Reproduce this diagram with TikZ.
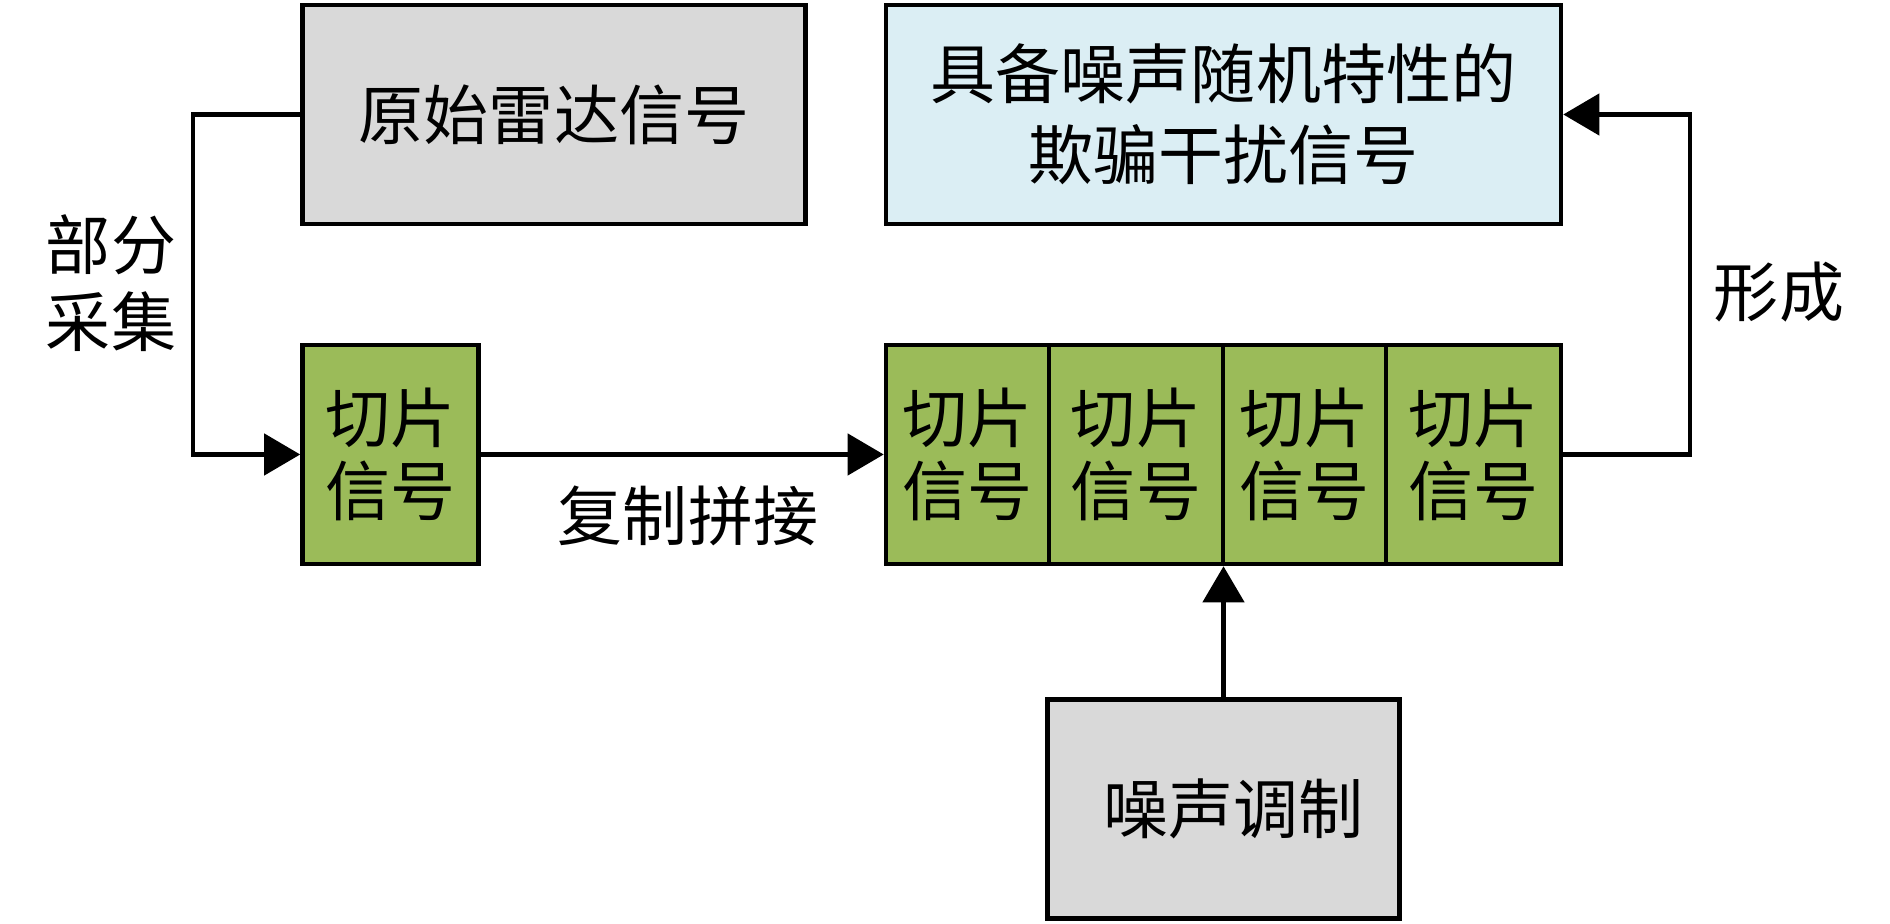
\documentclass[tikz,border=0pt]{standalone}
\usepackage{fontspec}
\setmainfont{Noto Sans CJK SC}
\usetikzlibrary{arrows.meta}

\definecolor{boxgray}{HTML}{D9D9D9}
\definecolor{boxblue}{HTML}{DBEEF4}
\definecolor{boxgreen}{HTML}{9BBB59}

\begin{document}
\begin{tikzpicture}[
	font=\fontsize{18.5}{21}\selectfont,
	blk/.style={draw, line width=1.3pt, inner sep=0pt, align=center, minimum height=2.19cm},
	cell/.style={blk, fill=boxgreen},
	link/.style={line width=1.3pt},
	feed/.style={link, -{Triangle[length=3.6mm, width=4.1mm]}}
	]
	
	\useasboundingbox (0,0) rectangle (18.9,9.24);
	
	% top row
	\node[blk, fill=boxgray, minimum width=5.03cm] (raw) at (5.54,8.095) {原始雷达信号};
	\node[blk, fill=boxblue, minimum width=6.75cm, font=\fontsize{18.5}{23}\selectfont] (jam) at (12.235,8.095) {具备噪声随机特性的\\欺骗干扰信号};
	
	% slices
	\node[cell, minimum width=1.76cm] (slice) at (3.905,4.695) {切片\\信号};
	\node[cell, minimum width=1.63cm] (s1) at (9.675,4.695) {切片\\信号};
	\node[cell, minimum width=1.74cm] (s2) at (11.36,4.695) {切片\\信号};
	\node[cell, minimum width=1.63cm] (s3) at (13.045,4.695) {切片\\信号};
	\node[cell, minimum width=1.75cm] (s4) at (14.735,4.695) {切片\\信号};
	
	% noise
	\node[blk, fill=boxgray, minimum width=3.52cm] (noise) at (12.235,1.1525) {\hspace{0.2cm}噪声调制};
	
	% connectors
	\coordinate (lft) at (1.93,4.695);
	\coordinate (rgt) at (16.9,4.695);
	\draw[feed] (raw.west) -| (lft) -- (slice.west);
	\draw[feed] (slice.east) -- (s1.west);
	\draw[feed] (s4.east) -- (rgt) |- (jam.east);
	\draw[feed] (noise.north) -- (noise.north |- s2.south);
	
	% labels
	\node[align=center, font=\fontsize{18.5}{22}\selectfont] (collect) at (1.11,6.41) {部分\\采集};
	\node (form) at (17.79,6.32) {形成};
	\node (copy) at (6.88,4.08) {复制拼接};
\end{tikzpicture}
\end{document}
